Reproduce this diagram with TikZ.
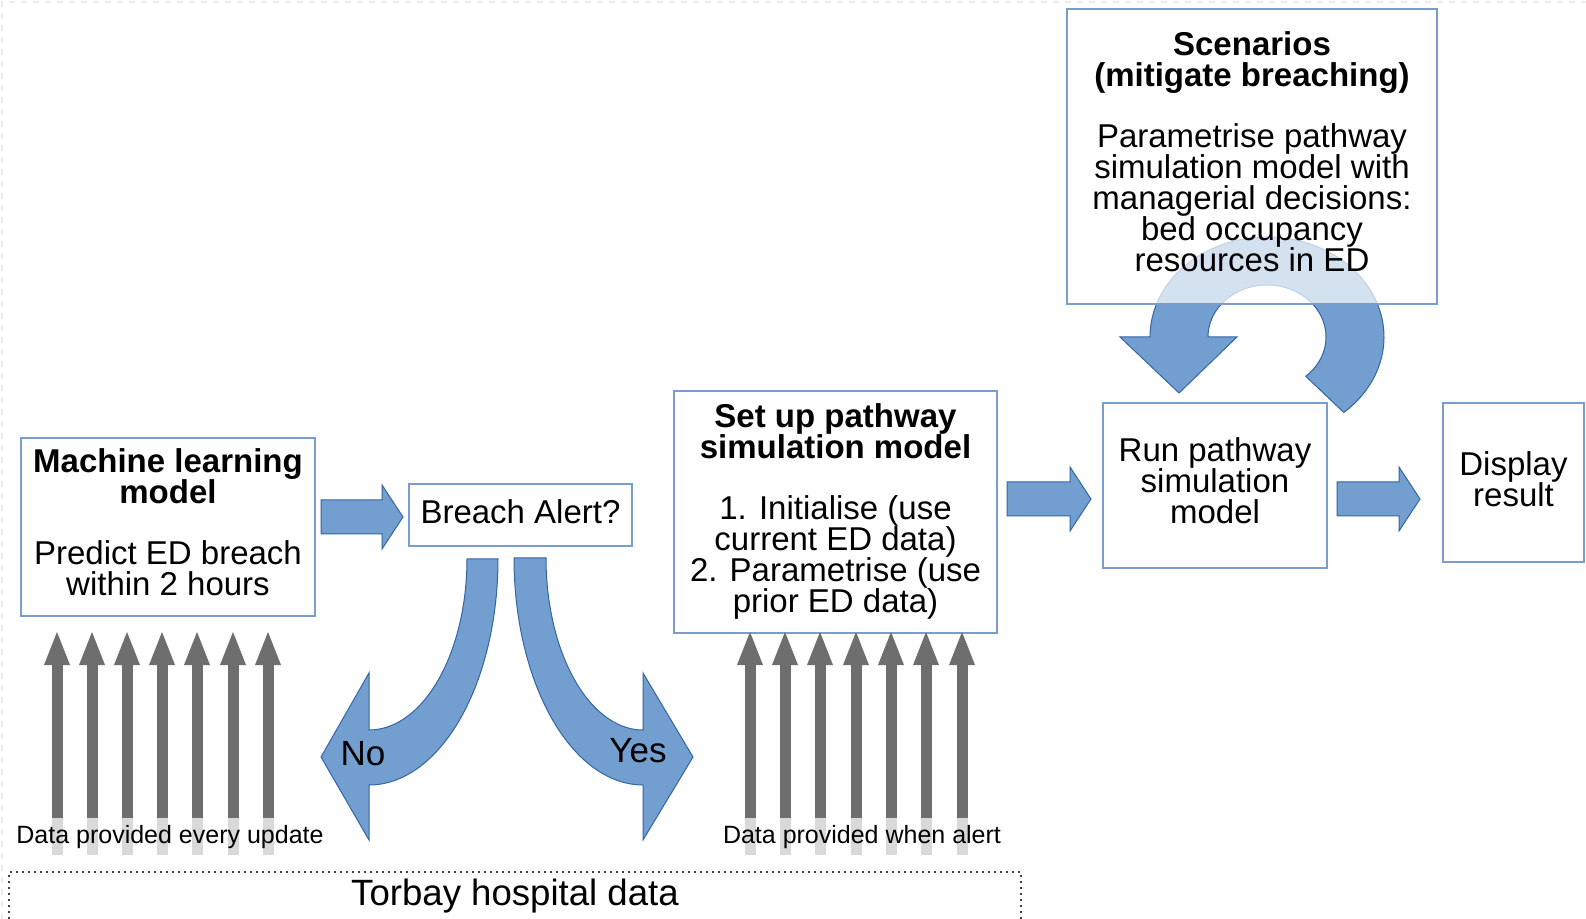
\documentclass[tikz,border=0pt]{standalone}
\usepackage{fontspec}
\setmainfont{Liberation Sans}
\usetikzlibrary{calc}
\definecolor{boxline}{HTML}{7A9CCE}
\definecolor{afill}{HTML}{729FCF}
\definecolor{aline}{HTML}{3465A4}
\definecolor{garr}{HTML}{6E6E6E}
\definecolor{glight}{HTML}{D9D9D9}
\newcommand\fatarrow[3]{\draw[fat] (#1,#3-17) -- (#2-21,#3-17) -- (#2-21,#3-32) -- (#2,#3) -- (#2-21,#3+32) -- (#2-21,#3+17) -- (#1,#3+17) -- cycle;}
\begin{document}
\begin{tikzpicture}[x=0.5pt,y=-0.5pt,
  box/.style={draw=boxline, line width=1pt, inner sep=0pt},
  txt/.style={align=center, inner sep=0pt, font=\fontsize{16.5}{15.5}\selectfont},
  fat/.style={fill=afill, draw=aline, line width=0.5pt, line join=miter},
  small/.style={font=\fontsize{12.5}{14}\selectfont, inner sep=0pt},
  lab/.style={font=\fontsize{17.5}{18}\selectfont, inner sep=0pt}]
\useasboundingbox (0,0) rectangle (1586,919);
\fill[white] (0,0) rectangle (1586,919);
\draw[dashed, line width=1pt, black!7] (2,919) -- (2,2) -- (1586,2);

% circular arrow (behind scenarios box)
\draw[fat] plot[domain=49:-180, samples=90] ({1267+117*cos(\x)},{337+100*sin(\x)}) -- (1120,337) -- (1179,393) -- (1237,337) -- (1208,337) -- plot[domain=-180:49, samples=90] ({1267+59*cos(\x)},{337+52*sin(\x)}) -- cycle;

% boxes
\node[box, minimum width=147pt, minimum height=89pt,
  label={[txt, yshift=2.5pt]center:{\textbf{Machine learning}\\\textbf{model}\\[15pt]Predict ED breach\\within 2 hours}}] (ml) at (168,527) {};
\node[box, minimum width=111.5pt, minimum height=31pt,
  label={[txt, yshift=1.5pt]center:{Breach Alert?}}] (alert) at (520.5,515) {};
\node[box, minimum width=161.5pt, minimum height=121pt,
  label={[txt, yshift=0.5pt]center:{\textbf{Set up pathway}\\\textbf{simulation model}\\[15pt]1. Initialise (use\\current ED data)\\2. Parametrise (use\\prior ED data)}}] (setup) at (835.5,512) {};
\node[box, minimum width=112pt, minimum height=82.5pt,
  label={[txt, yshift=2.5pt]center:{Run pathway\\simulation\\model}}] (run) at (1215,485.5) {};
\node[box, minimum width=70.5pt, minimum height=79.5pt,
  label={[txt, yshift=1.5pt]center:{Display\\result}}] (disp) at (1513.5,482.5) {};
\node[box, fill=white, fill opacity=0.7, minimum width=185pt, minimum height=147.5pt] (scen) at (1252,156.5) {};
\node[txt, yshift=2.5pt] (scentext) at (scen.center)
  {\textbf{Scenarios}\\\textbf{(mitigate breaching)}\\[15pt]Parametrise pathway\\simulation model with\\managerial decisions:\\bed occupancy\\resources in ED};

% straight block arrows
\fatarrow{321}{403}{517}
\fatarrow{1007}{1091}{499}
\fatarrow{1337}{1420}{499}

% No / Yes curved arrows
\draw[fat] (467,559) -- (498,559) -- plot[domain=0:90, samples=60] ({369+129*cos(\x)},{559+226*sin(\x)}) -- (369,840) -- (321,757) -- (369,673) -- plot[domain=90:0, samples=60] ({369+98*cos(\x)},{559+171*sin(\x)}) -- cycle;
\draw[fat] (546,558) -- (514,558) -- plot[domain=180:90, samples=60] ({643+129*cos(\x)},{558+227*sin(\x)}) -- (643,840) -- (693,757) -- (643,673) -- plot[domain=90:180, samples=60] ({643+97*cos(\x)},{558+172*sin(\x)}) -- cycle;
\node[lab] (no) at (363,754) {No};
\node[lab] (yes) at (638,751) {Yes};

% grey data arrows
\foreach \x in {57,92,127,162,197,233,268,750,785,820,856,891,926,962}{
  \fill[glight] (\x-5.5,818) rectangle (\x+5.5,855);
  \fill[garr] (\x-5.5,818) rectangle (\x+5.5,664);
  \fill[garr] (\x-13,665) -- (\x,632) -- (\x+13,665) -- cycle;
}
\node[small] (d1) at (170,837) {Data provided every update};
\node[small] (d2) at (862,837) {Data provided when alert};

% data source
\draw[dotted, line width=1pt, black!75] (9,919) -- (9,872) -- (1021,872) -- (1021,919);
\node[font=\fontsize{18.3}{20}\selectfont, inner sep=0pt] (torbay) at (515,896) {Torbay hospital data};
\end{tikzpicture}
\end{document}
